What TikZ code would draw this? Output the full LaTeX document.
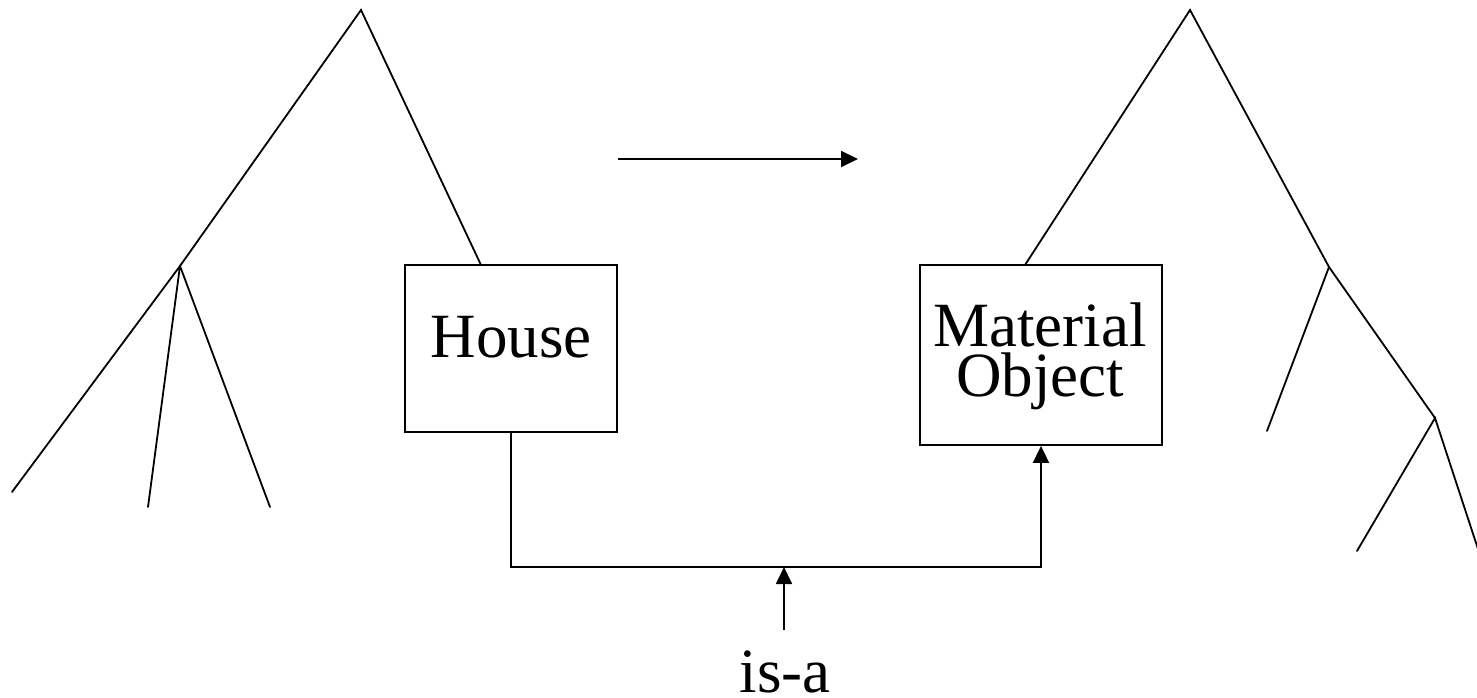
\documentclass[tikz,border=0pt]{standalone}
\usepackage{fontspec}
\setmainfont{Liberation Serif}
\usetikzlibrary{arrows.meta}
\begin{document}
\begin{tikzpicture}[x=1pt,y=-1pt,
  line width=1.8pt,
  branch/.style={line cap=round},
  conceptbox/.style={draw,inner sep=0pt},
  label/.style={inner sep=0pt,font=\fontsize{63}{50}\selectfont},
  isaarrow/.style={-{Triangle[width=16pt,length=17pt]}}]
\useasboundingbox (0,0) rectangle (1477,698);

% concept boxes
\node[conceptbox,minimum width=212pt,minimum height=167pt] (house) at (511,348.5) {};
\node[conceptbox,minimum width=242pt,minimum height=180pt] (mo) at (1041,355) {};
\node[label,anchor=base] (houseText) at (511,357) {House};
\node[label,align=center] (moText) at (1040,356.5) {Material\\Object};

% left hierarchy
\coordinate (lApex) at (361,10);
\coordinate (lMid) at (180,266);
\coordinate (lHouseTop) at (481,265);
\coordinate (lLeaf1) at (12,492);
\coordinate (lLeaf2) at (148,507);
\coordinate (lLeaf3) at (270,507);
\draw[branch] (lMid) -- (lApex) -- (lHouseTop);
\draw[branch] (lLeaf1) -- (lMid) -- (lLeaf2);
\draw[branch] (lMid) -- (lLeaf3);

% right hierarchy
\coordinate (rApex) at (1190,10);
\coordinate (rMoTop) at (1025,265);
\coordinate (rMid) at (1329,267);
\coordinate (rLow) at (1435,418);
\coordinate (rLeaf1) at (1267,431);
\coordinate (rLeaf2) at (1357,551);
\coordinate (rLeaf3) at (1478,549);
\draw[branch] (rMoTop) -- (rApex) -- (rMid) -- (rLow);
\draw[branch] (rMid) -- (rLeaf1);
\draw[branch] (rLeaf2) -- (rLow) -- (rLeaf3);

% mapping arrow between hierarchies
\coordinate (mapStart) at (618,159);
\coordinate (mapEnd) at (858,159);
\draw[isaarrow] (mapStart) -- (mapEnd);

% is-a link
\coordinate (linkL) at (511,567);
\coordinate (linkR) at (1041,567);
\draw[isaarrow] (house.south) -- (linkL) -- (linkR) -- (mo.south);

% is-a label and pointer
\node[label,anchor=base] (isa) at (785,692) {is-a};
\coordinate (isaFoot) at (784,630);
\coordinate (isaHead) at (784,567);
\draw[isaarrow] (isaFoot) -- (isaHead);
\end{tikzpicture}
\end{document}
